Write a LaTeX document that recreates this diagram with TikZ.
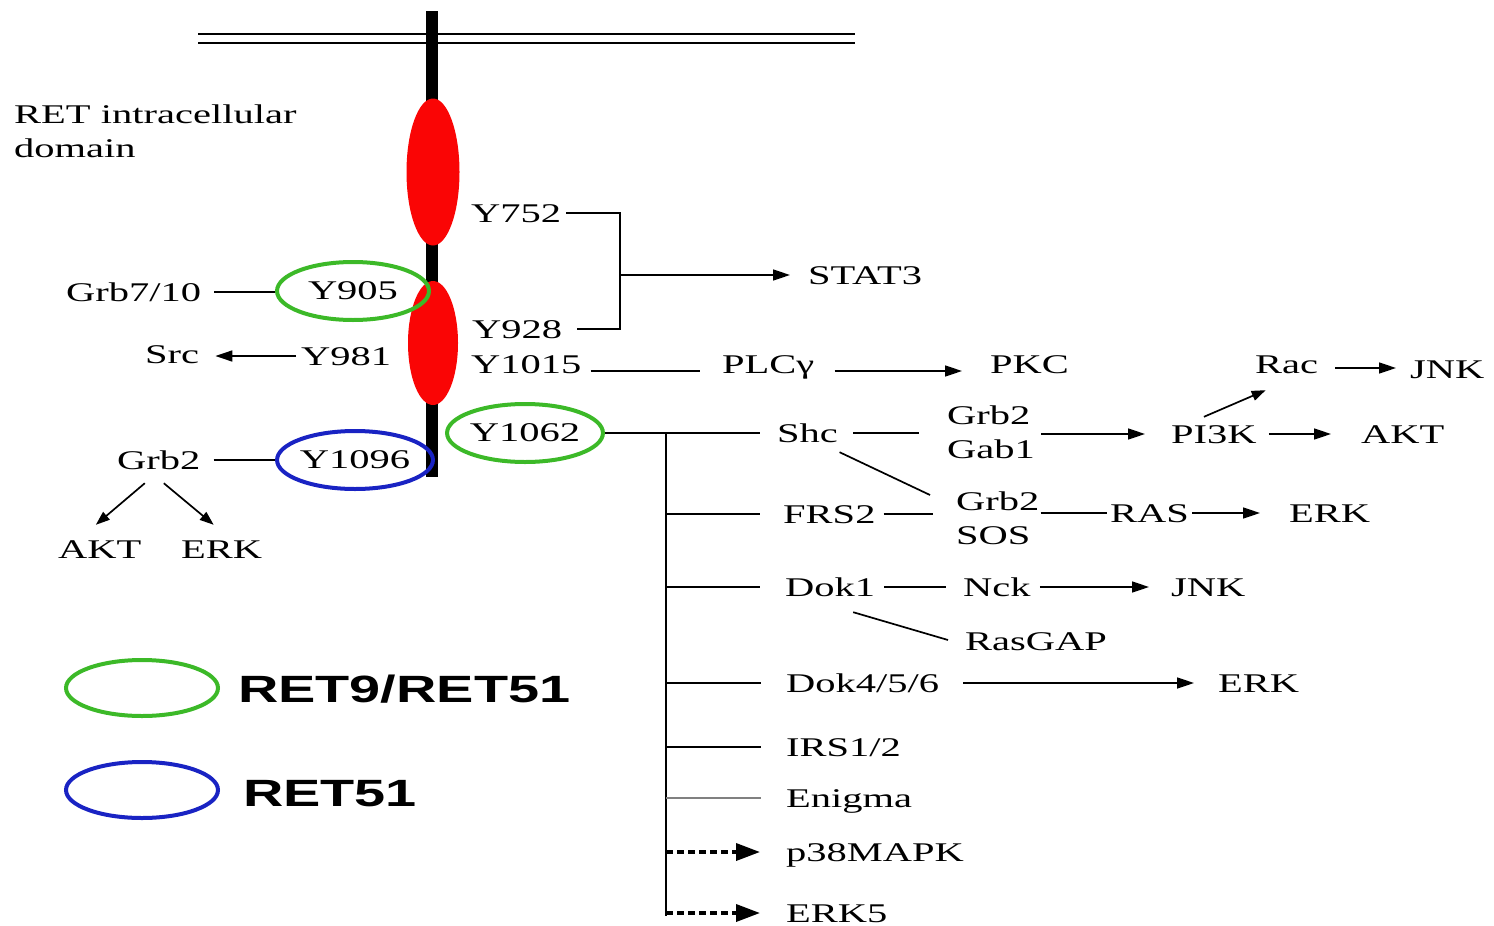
\documentclass[tikz,border=0pt]{standalone}
\usepackage{fontspec}
\setmainfont{Liberation Serif}
\newfontfamily\mytf{Liberation Serif}[FakeStretch=1.5]
\newfontfamily\mylf{Liberation Sans}[FakeStretch=1.47]
\usetikzlibrary{arrows.meta,shapes.geometric}
\definecolor{ogreen}{RGB}{60,185,40}
\definecolor{oblue}{RGB}{25,35,195}
\definecolor{ored}{RGB}{250,5,5}
\newcommand\tfont{\mytf\fontsize{27}{34}\selectfont}
\newcommand\lfont{\mylf\bfseries\fontsize{38}{44}\selectfont}
\begin{document}
\begin{tikzpicture}[x=1pt,y=-1pt,
 lbl/.style={font=\tfont, inner sep=0pt, text height=18pt, text depth=0pt, anchor=west},
 stk/.style={font=\tfont, inner sep=0pt, anchor=west, align=left},
 ln/.style={line width=1.7pt},
 arr/.style={ln, -{Triangle[length=17pt,width=11pt]}},
 sarr/.style={ln, -{Triangle[length=14pt,width=10pt]}},
 darr/.style={line width=3.6pt, dash pattern=on 7pt off 4pt, -{Triangle[length=24pt,width=17pt]}},
 oval/.style={ellipse, draw, line width=4pt, minimum width=152pt, minimum height=58pt, inner sep=0pt, font=\tfont},
 leg/.style={font=\lfont, inner sep=0pt, anchor=west, text height=28pt, text depth=0pt},
]
\useasboundingbox (0,0) rectangle (1494,926);
% membrane and receptor
\draw[line width=1.8pt] (198,34) -- (855,34);
\draw[line width=1.8pt] (198,43) -- (855,43);
\fill (426,11) rectangle (438,477);
\fill[ored] (433,172) ellipse [x radius=26.5pt, y radius=73.5pt];
\fill[ored] (433,343) ellipse [x radius=25pt, y radius=62pt];

\node[stk, anchor=north west] (ret) at (14,105) {RET intracellular\\domain};

% receptor sites
\node[lbl] (y752) at (471,213) {Y752};
\node[lbl] (y928) at (472,329) {Y928};
\coordinate (bk) at (620,275);
\node[lbl] (stat3) at (808,275) {STAT3};
\node[oval, draw=ogreen] (e905) at (353,291) {Y905};
\node[lbl] (grb710) at (66,292) {Grb7/10};
\node[lbl] (y981) at (301,356) {Y981};
\node[lbl] (src) at (145,354) {Src};
\node[lbl] (y1015) at (471,364) {Y1015};
\node[lbl] (plc) at (722,364) {PLCγ};
\node[lbl] (pkc) at (990,364) {PKC};
\node[oval, draw=ogreen] (e1062) at (525,433) {Y1062};
\node[oval, draw=oblue] (e1096) at (355,460) {Y1096};
\node[lbl] (grb2l) at (117,460) {Grb2};
\node[lbl] (akt1) at (58,549) {AKT};
\node[lbl] (erk1) at (181,549) {ERK};

% Y1062 targets
\coordinate (tt) at (666,433);
\node[lbl] (shc) at (777,433) {Shc};
\node[stk] (gg) at (947,432) {Grb2\\Gab1};
\node[lbl] (pi3k) at (1171,434) {PI3K};
\node[lbl] (akt2) at (1361,434) {AKT};
\node[lbl] (rac) at (1255,364) {Rac};
\node[lbl] (jnk1) at (1410,369) {JNK};
\node[lbl] (frs2) at (783,514) {FRS2};
\node[stk] (gs) at (956,518) {Grb2\\SOS};
\node[lbl] (ras) at (1110,513) {RAS};
\node[lbl] (erk2) at (1289,513) {ERK};
\node[lbl] (dok1) at (785,587) {Dok1};
\node[lbl] (nck) at (963,587) {Nck};
\node[lbl] (jnk2) at (1171,587) {JNK};
\node[lbl] (rasgap) at (965,641) {RasGAP};
\node[lbl] (dok456) at (786,683) {Dok4/5/6};
\node[lbl] (erk3) at (1218,683) {ERK};
\node[lbl] (irs) at (786,747) {IRS1/2};
\node[lbl] (enigma) at (786,798) {Enigma};
\node[lbl] (p38) at (786,852) {p38MAPK};
\node[lbl] (erk5) at (786,913) {ERK5};

% connectors near receptor
\draw[ln] ([xshift=5pt]y752.east) -| (bk) |- ([xshift=15pt]y928.east);
\draw[arr] (bk) -- ([xshift=-18pt]stat3.west);
\draw[ln] ([xshift=13pt]grb710.east) -- (grb710 -| e905.west);
\draw[arr] ([xshift=-5pt]y981.west) -- ([xshift=16pt]y981 -| src.east);
\draw[ln] ([xshift=9pt,yshift=-7pt]y1015.east) -- ([xshift=-22pt,yshift=-7pt]plc.west);
\draw[arr] ([xshift=20pt,yshift=-7pt]plc.east) -- ([xshift=-28pt,yshift=-7pt]pkc.west);
\draw[ln] ([xshift=13pt]grb2l.east) -- (e1096.west);
\draw[sarr] ([xshift=-14pt,yshift=-14pt]grb2l.south) -- ([xshift=-4pt,yshift=15pt]akt1.north);
\draw[sarr] ([xshift=5pt,yshift=-14pt]grb2l.south) -- ([xshift=-8pt,yshift=15pt]erk1.north);

% Y1062 tree
\draw[ln] (e1062.east) -- ([xshift=-17pt]shc.west);
\draw[ln] (tt) -- ([yshift=-3pt]tt |- erk5);
\draw[ln] (tt |- frs2) -- ([xshift=-23pt]frs2.west);
\draw[ln] (tt |- dok1) -- ([xshift=-25pt]dok1.west);
\draw[ln] (tt |- dok456) -- ([xshift=-25pt]dok456.west);
\draw[ln] (tt |- irs) -- ([xshift=-25pt]irs.west);
\draw[ln, gray] (tt |- enigma) -- ([xshift=-25pt]enigma.west);
\draw[darr] (tt |- p38) -- ([xshift=-26pt]p38.west);
\draw[darr] (tt |- erk5) -- ([xshift=-26pt]erk5.west);

\draw[ln] ([xshift=15pt]shc.east) -- ([xshift=-28pt]shc -| gg.west);
\draw[arr] ([xshift=6pt]pi3k -| gg.east) -- ([xshift=-26pt]pi3k.west);
\draw[arr] ([xshift=12pt]pi3k.east) -- ([xshift=-30pt]pi3k -| akt2.west);
\draw[sarr] ([xshift=-10pt,yshift=8pt]pi3k.north) -- ([xshift=-21pt,yshift=-17pt]rac.south);
\draw[arr] ([xshift=17pt,yshift=-4pt]rac.east) -- ([xshift=-14pt,yshift=1pt]jnk1.west);
\draw[ln] ([xshift=32pt,yshift=-10pt]shc.south) -- ([xshift=-26pt,yshift=23pt]gs.west);
\draw[ln] ([xshift=8pt]frs2.east) -- ([xshift=-23pt]frs2 -| gs.west);
\draw[ln] ([xshift=1pt]ras -| gs.east) -- ([xshift=-3pt]ras.west);
\draw[arr] ([xshift=3pt]ras.east) -- ([xshift=-29pt]erk2.west);
\draw[ln] ([xshift=9pt]dok1.east) -- ([xshift=-17pt]nck.west);
\draw[arr] ([xshift=9pt]nck.east) -- ([xshift=-22pt]jnk2.west);
\draw[ln] ([xshift=23pt,yshift=-16pt]dok1.south) -- ([xshift=-17pt,yshift=1pt]rasgap.west);
\draw[arr] ([xshift=24pt]dok456.east) -- ([xshift=-24pt]erk3.west);

% legend
\node[oval, draw=ogreen, minimum height=56pt] (lg1) at (142,688) {};
\node[leg] (lt1) at (238,688) {RET9/RET51};
\node[oval, draw=oblue, minimum height=56pt] (lg2) at (142,790) {};
\node[leg] (lt2) at (243,792) {RET51};
\end{tikzpicture}
\end{document}
